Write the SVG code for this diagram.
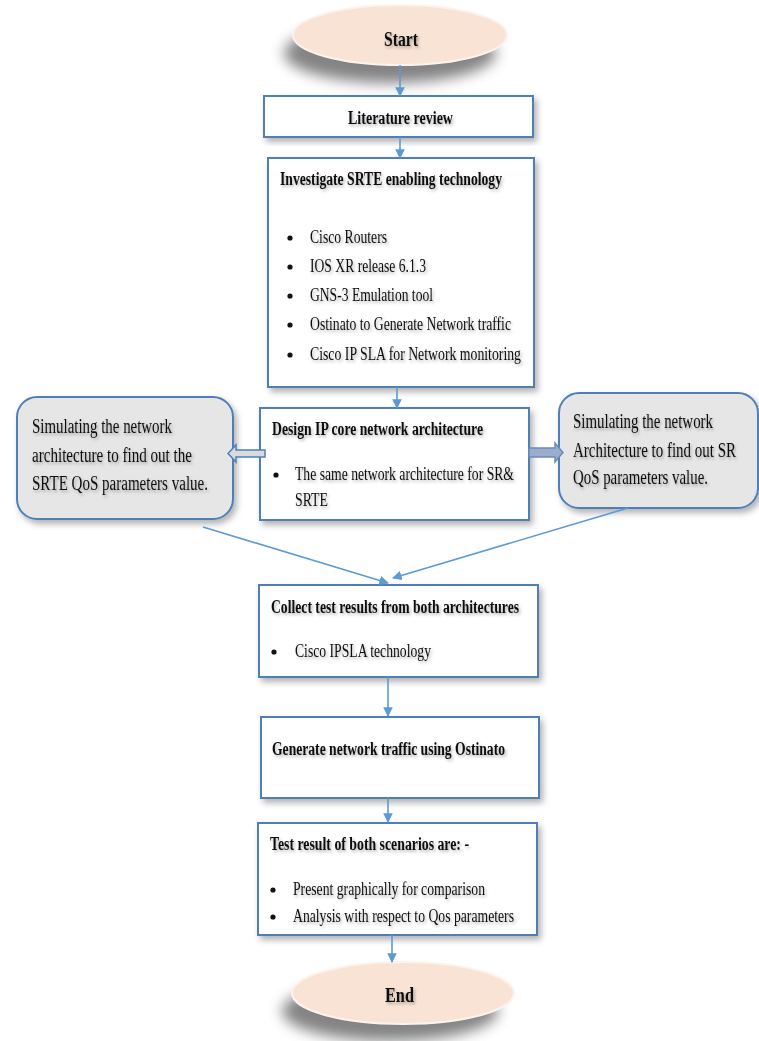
<svg xmlns="http://www.w3.org/2000/svg" width="759" height="1041" viewBox="0 0 759 1041">
  <style>
    .box { fill: #ffffff; stroke: #4f7fb8; stroke-width: 2; filter: url(#boxShadow); }
    .call { fill: #e6e6e6; stroke: #4f7fb8; stroke-width: 2; filter: url(#boxShadow); }
    .term { fill: #f9e3d5; stroke: #fdf3ec; stroke-width: 2; }
    .conn { stroke: #5b9bd5; stroke-width: 1.6; fill: none; marker-end: url(#arrow); }
    .t { font-family: "Liberation Serif", "Times New Roman", serif; font-size: 18px; fill: #111; filter: url(#textShadow); }
    .b { font-weight: bold; }
    .c { font-size: 20px; }
    .dot { fill: #111; }
  </style>
  <defs>
    <marker id="arrow" viewBox="0 0 10 10" refX="9" refY="5" markerWidth="6" markerHeight="6" orient="auto" markerUnits="strokeWidth">
      <path d="M0,0 L10,5 L0,10 z" fill="#5b9bd5"/>
    </marker>
    <filter id="boxShadow" x="-10%" y="-10%" width="125%" height="130%">
      <feDropShadow dx="3" dy="4" stdDeviation="3" flood-color="#000" flood-opacity="0.3"/>
    </filter>
    <filter id="textShadow" x="-5%" y="-30%" width="115%" height="170%">
      <feDropShadow dx="1.5" dy="2" stdDeviation="1.5" flood-color="#000" flood-opacity="0.3"/>
    </filter>
    <filter id="termShadow" x="-30%" y="-50%" width="160%" height="220%">
      <feGaussianBlur stdDeviation="7"/>
    </filter>
  </defs>

  <!-- Start terminal -->
  <g id="start">
    <ellipse cx="390" cy="53" rx="106" ry="30" fill="#5a5a5a" opacity="0.75" filter="url(#termShadow)"/>
    <ellipse class="term" cx="400" cy="35" rx="107" ry="30"/>
    <text class="t b" x="384" y="46" style="font-size:22px" textLength="34" lengthAdjust="spacingAndGlyphs">Start</text>
  </g>

  <!-- Literature review -->
  <g id="literature">
    <rect class="box" x="264" y="96" width="269" height="41"/>
    <text class="t b" x="348" y="124" textLength="105" lengthAdjust="spacingAndGlyphs">Literature review</text>
  </g>

  <!-- Investigate SRTE enabling technology -->
  <g id="investigate">
    <rect class="box" x="268" y="158" width="266" height="229"/>
    <text class="t b" x="280" y="185" textLength="222" lengthAdjust="spacingAndGlyphs">Investigate SRTE enabling technology</text>
    <circle class="dot" cx="290" cy="238" r="2.6"/>
    <text class="t" x="310" y="243" textLength="77" lengthAdjust="spacingAndGlyphs">Cisco Routers</text>
    <circle class="dot" cx="290" cy="267" r="2.6"/>
    <text class="t" x="310" y="272" textLength="116" lengthAdjust="spacingAndGlyphs">IOS XR release 6.1.3</text>
    <circle class="dot" cx="290" cy="296" r="2.6"/>
    <text class="t" x="310" y="301" textLength="123" lengthAdjust="spacingAndGlyphs">GNS-3 Emulation tool</text>
    <circle class="dot" cx="290" cy="325" r="2.6"/>
    <text class="t" x="310" y="330" textLength="201" lengthAdjust="spacingAndGlyphs">Ostinato to Generate Network traffic</text>
    <circle class="dot" cx="290" cy="355" r="2.6"/>
    <text class="t" x="310" y="360" textLength="211" lengthAdjust="spacingAndGlyphs">Cisco IP SLA for Network monitoring</text>
  </g>

  <!-- Design IP core network architecture -->
  <g id="design">
    <rect class="box" x="260" y="408" width="269" height="112"/>
    <text class="t b" x="272" y="435" textLength="211" lengthAdjust="spacingAndGlyphs">Design IP core network architecture</text>
    <circle class="dot" cx="276" cy="475" r="2.6"/>
    <text class="t" x="295" y="480" textLength="219" lengthAdjust="spacingAndGlyphs">The same network architecture for SR&amp;</text>
    <text class="t" x="295" y="506" textLength="33" lengthAdjust="spacingAndGlyphs">SRTE</text>
  </g>

  <!-- SRTE simulation callout -->
  <g id="srte-sim">
    <rect class="call" x="17" y="397" width="216" height="122" rx="20" ry="20"/>
    <polygon points="228,453.5 236,445 236,450 265,450 265,457 236,457 236,462" fill="#d9dadc" stroke="#4f7fb8" stroke-width="1.5"/>
    <text class="t c" x="32" y="433" textLength="140" lengthAdjust="spacingAndGlyphs">Simulating the network</text>
    <text class="t c" x="32" y="462" textLength="160" lengthAdjust="spacingAndGlyphs">architecture to find out the</text>
    <text class="t c" x="32" y="490" textLength="176" lengthAdjust="spacingAndGlyphs">SRTE QoS parameters value.</text>
  </g>

  <!-- SR simulation callout (text narrowed with a horizontal scale) -->
  <g id="sr-sim">
    <rect class="call" x="559" y="393" width="199" height="115" rx="20" ry="20"/>
    <polygon points="529,448 555,448 555,443 563,452.5 555,462 555,457 529,457" fill="#9aaecb" stroke="#6a8bbd" stroke-width="1.5"/>
    <text class="t c" transform="translate(573 428) scale(0.75 1)" x="0" y="0" textLength="186.7" lengthAdjust="spacingAndGlyphs">Simulating the network</text>
    <text class="t c" transform="translate(573 457) scale(0.75 1)" x="0" y="0" textLength="217.3" lengthAdjust="spacingAndGlyphs">Architecture to find out SR</text>
    <text class="t c" transform="translate(573 484) scale(0.75 1)" x="0" y="0" textLength="180" lengthAdjust="spacingAndGlyphs">QoS parameters value.</text>
  </g>

  <!-- Collect test results -->
  <g id="collect">
    <rect class="box" x="259" y="585" width="279" height="92"/>
    <text class="t b" x="271" y="613" textLength="248" lengthAdjust="spacingAndGlyphs">Collect test results from both architectures</text>
    <circle class="dot" cx="274" cy="652" r="2.6"/>
    <text class="t" x="295" y="657" textLength="136" lengthAdjust="spacingAndGlyphs">Cisco IPSLA technology</text>
  </g>

  <!-- Generate network traffic -->
  <g id="generate">
    <rect class="box" x="261" y="717" width="278" height="81"/>
    <text class="t b" x="272" y="755" textLength="233" lengthAdjust="spacingAndGlyphs">Generate network traffic using Ostinato</text>
  </g>

  <!-- Test results -->
  <g id="results">
    <rect class="box" x="258" y="823" width="279" height="112"/>
    <text class="t b" x="270" y="850" textLength="199" lengthAdjust="spacingAndGlyphs">Test result of both scenarios are: -</text>
    <circle class="dot" cx="273" cy="890" r="2.6"/>
    <text class="t" x="293" y="895" textLength="192" lengthAdjust="spacingAndGlyphs">Present graphically for comparison</text>
    <circle class="dot" cx="273" cy="917" r="2.6"/>
    <text class="t" x="293" y="922" textLength="221" lengthAdjust="spacingAndGlyphs">Analysis with respect to Qos parameters</text>
  </g>

  <!-- End terminal -->
  <g id="end">
    <ellipse cx="390" cy="1011" rx="108" ry="30" fill="#5a5a5a" opacity="0.75" filter="url(#termShadow)"/>
    <ellipse class="term" cx="403" cy="993" rx="111" ry="31"/>
    <text class="t b" x="385" y="1002" style="font-size:22px" textLength="29" lengthAdjust="spacingAndGlyphs">End</text>
  </g>

  <!-- Connectors -->
  <g id="connectors">
    <line class="conn" x1="400" y1="65" x2="400" y2="96"/>
    <line class="conn" x1="400" y1="137" x2="400" y2="158"/>
    <line class="conn" x1="397" y1="387" x2="397" y2="408"/>
    <line class="conn" x1="203" y1="527" x2="388" y2="583"/>
    <line class="conn" x1="628" y1="508" x2="393" y2="578"/>
    <line class="conn" x1="388" y1="677" x2="388" y2="716"/>
    <line class="conn" x1="388" y1="798" x2="388" y2="822"/>
    <line class="conn" x1="392" y1="935" x2="392" y2="962"/>
  </g>
</svg>
